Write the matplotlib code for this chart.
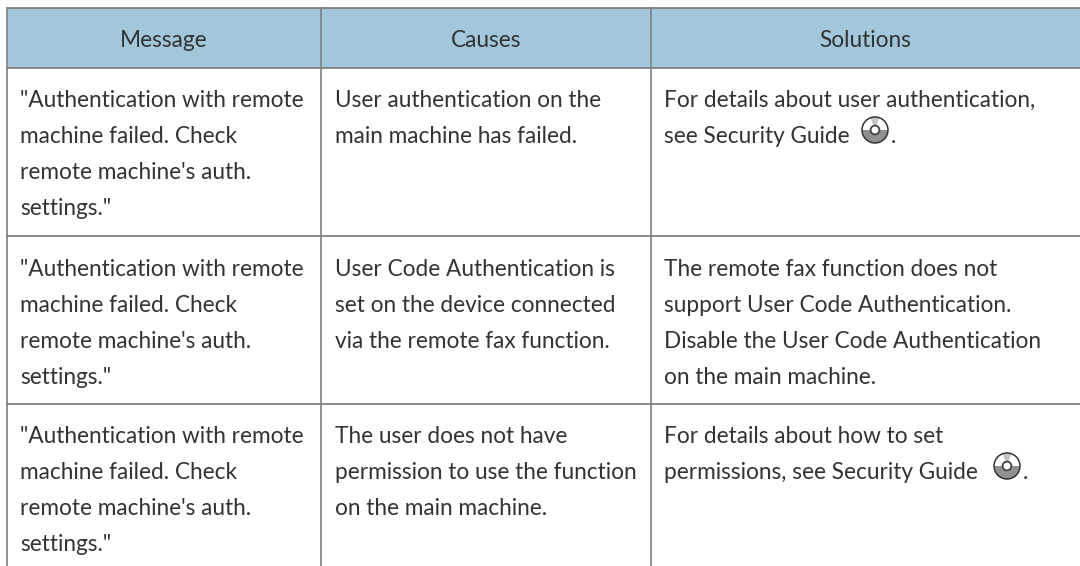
import matplotlib
matplotlib.use("Agg")
import matplotlib.pyplot as plt
from matplotlib.patches import Rectangle, Circle, Wedge

W, H = 1080, 566
headers = ["Message", "Causes", "Solutions"]
message = ['"Authentication with remote', 'machine failed. Check', "remote machine's auth.", 'settings."']
causes = [
    ["User authentication on the", "main machine has failed."],
    ["User Code Authentication is", "set on the device connected", "via the remote fax function."],
    ["The user does not have", "permission to use the function", "on the main machine."],
]
solutions = [
    ["For details about user authentication,", "see Security Guide"],
    ["The remote fax function does not", "support User Code Authentication.", "Disable the User Code Authentication", "on the main machine."],
    ["For details about how to set", "permissions, see Security Guide"],
]
col_x = [7, 321, 651, 1080]
row_lines = [68, 236, 404]
row_base = [107, 275.5, 443]
disc_x = {0: 875, 2: 1007}
FONT = "Lato"
FS = 16.3
INK = "#333333"
LINE = "#808080"
HEAD = "#a2c7db"
LEAD = 36

fig = plt.figure(figsize=(W / 100, H / 100), dpi=100)
ax = fig.add_axes([0, 0, 1, 1])
ax.set_xlim(0, W)
ax.set_ylim(H, 0)
ax.axis("off")

ax.add_patch(Rectangle((col_x[0], 8), W - col_x[0], 60, fc=HEAD, ec="none"))
for y in [8] + row_lines:
    ax.plot([col_x[0], W], [y, y], color=LINE, lw=1.3)
for x in col_x[:3]:
    ax.plot([x, x], [8, H], color=LINE, lw=1.2)

for i, h in enumerate(headers):
    ax.text((col_x[i] + col_x[i + 1]) / 2, 47, h, ha="center", va="baseline",
            family=FONT, fontsize=FS, color=INK)


def disc(x, y, r=13):
    ax.add_patch(Circle((x, y), r, fc="white", ec="none"))
    ax.add_patch(Wedge((x, y), r, 0, 180, fc="#909090", ec="none"))
    ax.add_patch(Wedge((x, y), r, 250, 290, fc="#c4c4c4", ec="none"))
    ax.add_patch(Circle((x, y), r, fc="none", ec="#333333", lw=1.1))
    ax.add_patch(Circle((x, y), 4.4, fc="white", ec="#444444", lw=1.3))


def block(x, base, lines):
    for k, s in enumerate(lines):
        ax.text(x, base + k * LEAD, s, ha="left", va="baseline",
                family=FONT, fontsize=FS, color=INK)


for r, base in enumerate(row_base):
    block(20, base, message)
    block(335, base, causes[r])
    block(664, base, solutions[r])
    if r in disc_x:
        disc(disc_x[r], base + LEAD - 13)
        ax.text(disc_x[r] + 16, base + LEAD, ".", ha="left", va="baseline",
                family=FONT, fontsize=FS, color=INK)

fig.savefig("out.png", dpi=100)
